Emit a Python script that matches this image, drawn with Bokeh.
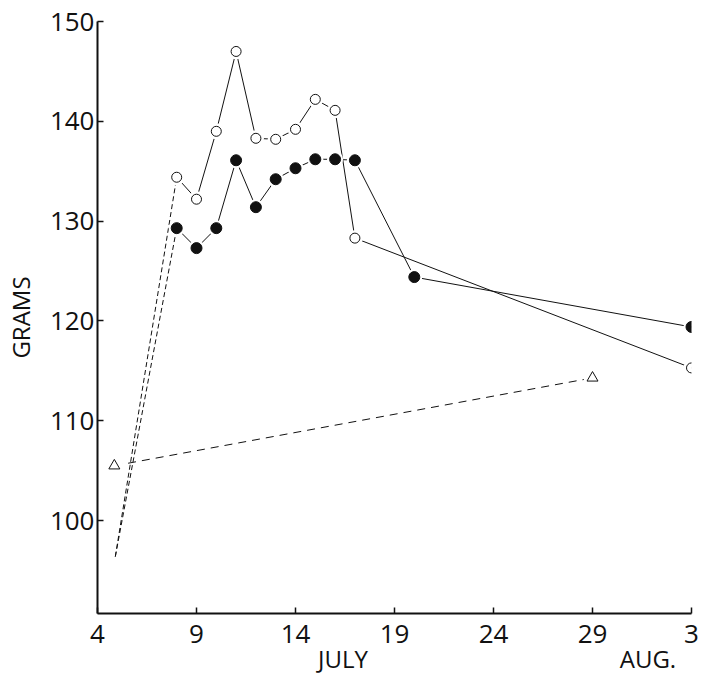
from bokeh.plotting import figure
from bokeh.models import Range1d, FixedTicker, LinearAxis
from bokeh.embed import file_html
from bokeh.resources import INLINE

# ---------------- data ----------------
x_ticks = [4, 9, 14, 19, 24, 29, 34]
x_tick_labels = ["4", "9", "14", "19", "24", "29", "3"]
y_ticks = [100, 110, 120, 130, 140, 150]
month_pos = [16.4, 31.8]
month_labels = ["JULY", "AUG."]

start_day = 4.9
start_val = 96.4

open_days = [8, 9, 10, 11, 12, 13, 14, 15, 16, 17, 34]
open_vals = [134.4, 132.2, 139.0, 147.0, 138.3, 138.2, 139.2, 142.2, 141.1, 128.3, 115.3]

filled_days = [8, 9, 10, 11, 12, 13, 14, 15, 16, 17, 20, 34]
filled_vals = [129.3, 127.3, 129.3, 136.1, 131.4, 134.2, 135.3, 136.2, 136.2, 136.1, 124.4, 119.4]

tri_days = [4.85, 29]
tri_vals = [105.5, 114.3]

FONT = "Open Sans"
INK = "#111111"

p = figure(width=703, height=678, output_backend="svg", toolbar_location=None,
           x_range=Range1d(4, 34), y_range=Range1d(90.7, 150),
           min_border_left=97, min_border_right=12, min_border_top=21, min_border_bottom=65)
p.outline_line_color = None
p.xgrid.visible = False
p.ygrid.visible = False
p.background_fill_color = "white"
p.border_fill_color = "white"

# dashed rises from the common starting weight
p.line([start_day, open_days[0]], [start_val, open_vals[0]], line_color=INK, line_width=1, line_dash="5 3")
p.line([start_day, filled_days[0]], [start_val, filled_vals[0]], line_color=INK, line_width=1, line_dash="5 3")

# series lines
p.line(open_days, open_vals, line_color=INK, line_width=1)
p.line(filled_days, filled_vals, line_color=INK, line_width=1)
p.line(tri_days, tri_vals, line_color=INK, line_width=1, line_dash="8 6")

# white halos to leave gaps around markers
p.scatter(open_days, open_vals, marker="circle", size=16, fill_color="white", line_color=None)
p.scatter(tri_days, tri_vals, marker="circle", size=18, fill_color="white", line_color=None)
p.scatter(open_days, open_vals, marker="circle", size=10, fill_color="white", line_color=INK, line_width=1)
p.scatter(tri_days, tri_vals, marker="triangle", size=11, fill_color="white", line_color=INK, line_width=1)
p.scatter(filled_days, filled_vals, marker="circle", size=16, fill_color="white", line_color=None)
p.scatter(filled_days, filled_vals, marker="circle", size=11, fill_color=INK, line_color=INK)

# axes
p.xaxis.ticker = FixedTicker(ticks=x_ticks)
p.xaxis.major_label_overrides = dict(zip(x_ticks, x_tick_labels))
p.yaxis.ticker = FixedTicker(ticks=y_ticks)
for ax in (p.xaxis, p.yaxis):
    ax.axis_line_color = INK
    ax.axis_line_width = 2
    ax.major_tick_in = 6
    ax.major_tick_out = 0
    ax.major_tick_line_color = INK
    ax.major_tick_line_width = 1.5
    ax.minor_tick_line_color = None
    ax.major_label_text_font = FONT
    ax.major_label_text_font_size = "26px"
    ax.major_label_text_color = INK
p.xaxis.major_label_standoff = 11
p.yaxis.major_label_standoff = 3

p.yaxis.axis_label = "GRAMS"
p.yaxis.axis_label_text_font = FONT
p.yaxis.axis_label_text_font_size = "24px"
p.yaxis.axis_label_text_font_style = "normal"
p.yaxis.axis_label_text_color = INK
p.yaxis.axis_label_standoff = 10

# month names under the day numbers
month_axis = LinearAxis(ticker=FixedTicker(ticks=month_pos),
                        major_label_overrides=dict(zip(month_pos, month_labels)))
month_axis.axis_line_color = None
month_axis.major_tick_line_color = None
month_axis.minor_tick_line_color = None
month_axis.major_tick_in = 0
month_axis.major_tick_out = 0
month_axis.major_label_text_font = FONT
month_axis.major_label_text_font_size = "24px"
month_axis.major_label_text_color = INK
month_axis.major_label_standoff = -4
p.add_layout(month_axis, "below")

open("out.html", "w").write(file_html(p, INLINE))
